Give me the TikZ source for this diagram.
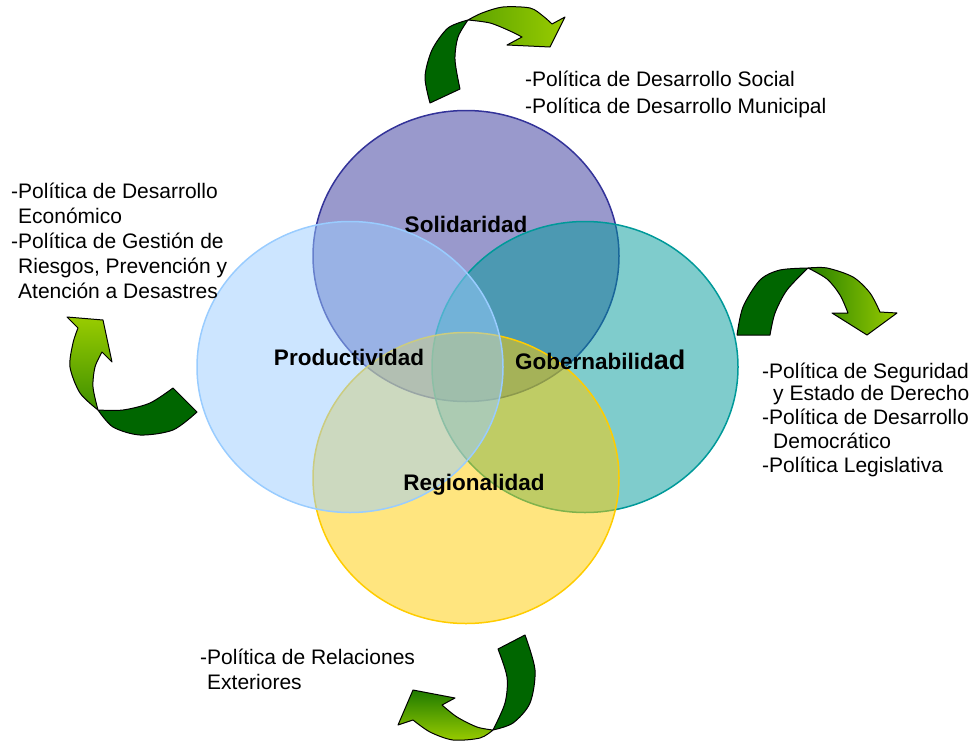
\documentclass[tikz,border=0pt]{standalone}
\usepackage{fontspec}
\setmainfont{Liberation Sans}
\usetikzlibrary{positioning}

\definecolor{solidaridadColor}{RGB}{51,51,153}
\definecolor{productividadColor}{RGB}{153,204,255}
\definecolor{gobernabilidadColor}{RGB}{0,153,153}
\definecolor{regionalidadColor}{RGB}{255,204,0}
\definecolor{arrowDark}{RGB}{0,102,0}
\definecolor{arrowLight}{RGB}{153,204,0}

\tikzset{
	setCircle/.style={draw=#1, fill=#1, fill opacity=0.5, line width=1.5pt},
	setLabel/.style={font=\fontsize{22.5}{27}\selectfont\bfseries, inner sep=0pt, anchor=base},
	policyText/.style={font=\fontsize{21}{#1}\selectfont, align=left, inner sep=0pt, anchor=base west},
	arrowTail/.style={fill=arrowDark, draw=black, line width=1pt, line join=round},
	arrowHead/.style={draw=black, line width=1pt, line join=round},
}

\begin{document}
\begin{tikzpicture}[x=1pt, y=-1pt]

	\useasboundingbox (0,0) rectangle (979,744);

	%the four sets, drawn back to front
	\filldraw[setCircle=solidaridadColor] (466,256) ellipse [x radius=153pt, y radius=145.5pt];
	\filldraw[setCircle=gobernabilidadColor] (585,367) ellipse [x radius=153pt, y radius=145.5pt];
	\filldraw[setCircle=regionalidadColor] (466,478) ellipse [x radius=153pt, y radius=145.5pt];
	\filldraw[setCircle=productividadColor] (350,367) ellipse [x radius=153pt, y radius=145.5pt];

	%set names
	\node[setLabel] (solidaridad) at (466,232) {Solidaridad};
	\node[setLabel] (productividad) at (349,365) {Productividad};
	\node[setLabel, anchor=base west] (gobernabilidad) at (515,369) {Gobernabilid{\fontsize{27}{27}\selectfont ad}};
	\node[setLabel] (regionalidad) at (474,490) {Regionalidad};

	%policy lists, base anchor sits on the last line
	\node[policyText=27] (socialText) at (525,113) {-Política de Desarrollo Social\\-Política de Desarrollo Municipal};
	\node[policyText=25] (economicText) at (11,298) {-Política de Desarrollo\\\phantom{-}Económico\\-Política de Gestión de\\\phantom{-}Riesgos, Prevención y\\\phantom{-}Atención a Desastres};
	\node[policyText=24] (securityText) at (762,472) {-Política de Seguridad\\[-2pt]\hspace{11pt}y Estado de Derecho\\-Política de Desarrollo\\\hspace{11pt}Democrático\\-Política Legislativa};
	\node[policyText=25] (foreignText) at (200,689) {-Política de Relaciones\\\phantom{-}Exteriores};

	%top arrow
	\coordinate (topTailA) at (430,103);
	\coordinate (topTailB) at (460,89);
	\coordinate (topTwist) at (468,20);
	\coordinate (topHeadA) at (552,24);
	\coordinate (topBarbA) at (565,17);
	\coordinate (topTip) at (550,47);
	\coordinate (topBarbB) at (507,45);
	\coordinate (topHeadB) at (522,37);
	\filldraw[arrowTail] plot[smooth] coordinates {(topTailA) (425,77) (432,50) (448,28) (topTwist)} -- plot[smooth] coordinates {(topTwist) (458,37) (455,60) (topTailB)} -- cycle;
	\shadedraw[arrowHead, left color=arrowDark!40!arrowLight, right color=arrowLight] plot[smooth] coordinates {(topTwist) (482,13) (503,7) (530,8) (543,16) (topHeadA)} -- (topBarbA) -- (topTip) -- (topBarbB) -- (topHeadB) -- plot[smooth] coordinates {(topHeadB) (510,31) (490,23) (topTwist)} -- cycle;

	%right arrow
	\coordinate (rightTailA) at (737,335);
	\coordinate (rightTailB) at (770,335);
	\coordinate (rightTwist) at (808,268);
	\coordinate (rightHeadA) at (880,312);
	\coordinate (rightBarbA) at (897,313);
	\coordinate (rightTip) at (867,335);
	\coordinate (rightBarbB) at (832,313);
	\coordinate (rightHeadB) at (848,313);
	\filldraw[arrowTail] plot[smooth] coordinates {(rightTailA) (743,307) (760,280) (780,270) (rightTwist)} -- plot[smooth] coordinates {(rightTwist) (787,290) (775,313) (rightTailB)} -- cycle;
	\shadedraw[arrowHead, left color=arrowDark!75!arrowLight, right color=arrowLight] plot[smooth] coordinates {(rightTwist) (827,268) (853,277) (870,293) (rightHeadA)} -- (rightBarbA) -- (rightTip) -- (rightBarbB) -- (rightHeadB) -- plot[smooth] coordinates {(rightHeadB) (840,295) (827,279) (rightTwist)} -- cycle;

	%left arrow
	\coordinate (leftTailA) at (173,388);
	\coordinate (leftTailB) at (197,412);
	\coordinate (leftTwist) at (98,410);
	\coordinate (leftHeadA) at (78,328);
	\coordinate (leftBarbA) at (67,317);
	\coordinate (leftTip) at (103,320);
	\coordinate (leftBarbB) at (112,362);
	\coordinate (leftHeadB) at (102,352);
	\filldraw[arrowTail] plot[smooth] coordinates {(leftTailB) (173,430) (140,435) (113,427) (leftTwist)} -- plot[smooth] coordinates {(leftTwist) (123,410) (150,403) (leftTailA)} -- cycle;
	\shadedraw[arrowHead, top color=arrowLight, bottom color=arrowDark!60!arrowLight] plot[smooth] coordinates {(leftTwist) (80,393) (70,367) (73,343) (leftHeadA)} -- (leftBarbA) -- (leftTip) -- (leftBarbB) -- (leftHeadB) -- plot[smooth] coordinates {(leftHeadB) (95,367) (93,387) (leftTwist)} -- cycle;

	%bottom arrow
	\coordinate (bottomTailA) at (498,649);
	\coordinate (bottomTailB) at (525,635);
	\coordinate (bottomTwist) at (493,730);
	\coordinate (bottomHeadA) at (413,720);
	\coordinate (bottomBarbA) at (398,725);
	\coordinate (bottomTip) at (413,690);
	\coordinate (bottomBarbB) at (455,698);
	\coordinate (bottomHeadB) at (442,705);
	\filldraw[arrowTail] plot[smooth] coordinates {(bottomTailB) (535,670) (530,703) (513,723) (bottomTwist)} -- plot[smooth] coordinates {(bottomTwist) (505,703) (507,677) (bottomTailA)} -- cycle;
	\shadedraw[arrowHead, top color=arrowDark!80!arrowLight, bottom color=arrowLight] plot[smooth] coordinates {(bottomTwist) (480,738) (453,740) (430,732) (bottomHeadA)} -- (bottomBarbA) -- (bottomTip) -- (bottomBarbB) -- (bottomHeadB) -- plot[smooth] coordinates {(bottomHeadB) (457,717) (477,727) (bottomTwist)} -- cycle;

\end{tikzpicture}
\end{document}
